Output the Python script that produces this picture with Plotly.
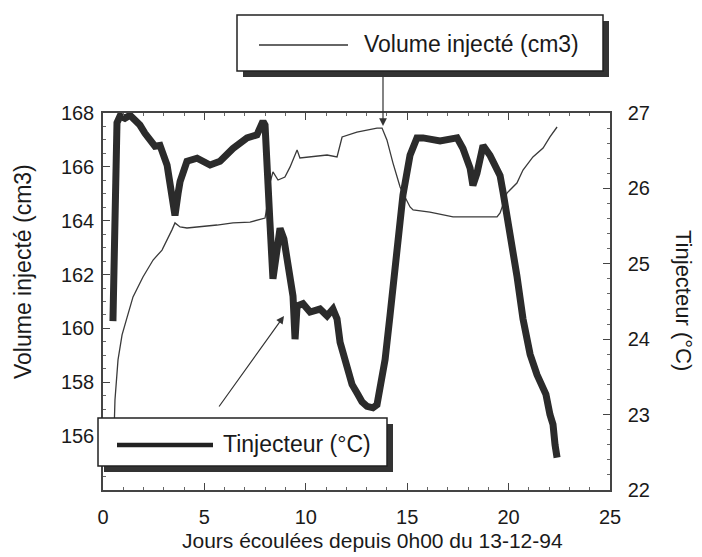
import plotly.graph_objects as go

# ---- data ----
vol_days = [0.49, 0.59, 0.74, 0.94, 1.18, 1.48, 1.97, 2.47, 2.91, 3.16, 3.40, 3.55, 3.80, 4.14,
            4.78, 5.62, 6.41, 7.25, 7.99, 8.14, 8.23, 8.38, 8.63, 8.97, 9.22, 9.57, 9.71, 10.36,
            11.05, 11.54, 11.79, 12.52, 13.51, 13.76, 14.00, 14.30, 14.65, 14.89, 15.14, 15.29,
            16.12, 17.26, 18.24, 19.43, 19.58, 19.92, 20.41, 20.71, 21.20, 21.70, 22.04, 22.39]
vol_cm3 = [154.74, 157.34, 158.83, 159.76, 160.39, 161.17, 161.91, 162.54, 162.91, 163.28, 163.66,
           163.92, 163.77, 163.73, 163.77, 163.84, 163.92, 163.95, 164.10, 164.77, 165.40, 165.81,
           165.51, 165.62, 165.99, 166.63, 166.33, 166.37, 166.44, 166.37, 167.11, 167.29, 167.44,
           167.44, 167.00, 166.14, 165.25, 164.88, 164.51, 164.40, 164.32, 164.14, 164.14, 164.14,
           164.29, 165.03, 165.40, 165.88, 166.37, 166.70, 167.11, 167.48]

temp_days = [0.49, 0.54, 0.59, 0.69, 0.84, 1.08, 1.33, 1.58, 1.82, 2.07, 2.32, 2.56, 2.81, 3.01,
             3.16, 3.30, 3.40, 3.55, 3.70, 3.80, 4.14, 4.64, 5.28, 5.77, 6.41, 7.10, 7.59, 7.89,
             7.99, 8.09, 8.23, 8.38, 8.53, 8.73, 8.92, 9.07, 9.37, 9.47, 9.57, 9.86, 10.21, 10.70,
             11.05, 11.34, 11.54, 11.69, 12.03, 12.28, 12.52, 12.77, 13.02, 13.31, 13.51, 13.66,
             13.91, 14.15, 14.50, 14.79, 15.14, 15.48, 15.78, 16.62, 17.46, 17.75, 18.10, 18.24,
             18.44, 18.59, 18.74, 19.08, 19.58, 19.72, 20.07, 20.41, 20.71, 21.06, 21.40, 21.65,
             21.84, 22.04, 22.19, 22.29, 22.39]
temp_c = [24.24, 25.20, 26.27, 26.87, 26.96, 26.93, 26.97, 26.91, 26.84, 26.73, 26.63, 26.56, 26.57,
          26.43, 26.31, 26.07, 25.87, 25.64, 25.93, 26.09, 26.36, 26.40, 26.31, 26.36, 26.53, 26.67,
          26.71, 26.89, 26.84, 26.13, 25.56, 24.80, 25.07, 25.47, 25.33, 25.11, 24.57, 24.00, 24.44,
          24.47, 24.36, 24.40, 24.31, 24.40, 24.27, 23.96, 23.64, 23.40, 23.29, 23.17, 23.11, 23.09,
          23.13, 23.33, 23.73, 24.31, 25.20, 25.91, 26.44, 26.67, 26.67, 26.63, 26.67, 26.53, 26.27,
          26.04, 26.20, 26.36, 26.57, 26.44, 26.17, 25.96, 25.43, 24.84, 24.27, 23.80, 23.53, 23.40,
          23.27, 23.00, 22.87, 22.60, 22.43]

x_ticks = [0, 5, 10, 15, 20, 25]
left_ticks = [156, 158, 160, 162, 164, 166, 168]
right_ticks = [22, 23, 24, 25, 26, 27]

FONT = "Liberation Sans, Arial, sans-serif"
INK = "#1a1a1a"

fig = go.Figure()
fig.add_trace(go.Scatter(x=vol_days, y=vol_cm3, mode="lines", yaxis="y",
                         line=dict(color="#3a3a3a", width=1.3), showlegend=False))
fig.add_trace(go.Scatter(x=temp_days, y=temp_c, mode="lines", yaxis="y2",
                         line=dict(color="#2b2b2b", width=7), showlegend=False))

axis_common = dict(showgrid=False, zeroline=False, showline=True, linecolor="#444",
                   linewidth=1.5, ticks="inside", tickcolor="#444",
                   tickfont=dict(family=FONT, size=20, color=INK))

# page body has an 8px margin: figure is shrunk so the plot area sits at
# screen x 103..610, y 113..490
fig.update_layout(
    width=694, height=549,
    margin=dict(l=95, r=92, t=105, b=67),
    paper_bgcolor="white", plot_bgcolor="white",
    xaxis=dict(range=[0, 25], tickvals=x_ticks, ticklen=7, mirror="ticks",
               minor=dict(dtick=1, ticks="inside", ticklen=3, tickcolor="#666"),
               ticklabelstandoff=8, **axis_common),
    yaxis=dict(range=[154, 168], tickvals=left_ticks, ticklen=7, mirror=True,
               minor=dict(dtick=0.5, ticks="inside", ticklen=3, tickcolor="#666"),
               ticklabelstandoff=3, **axis_common),
    yaxis2=dict(range=[22, 27], tickvals=right_ticks, overlaying="y", side="right", ticklen=7,
                minor=dict(dtick=0.2, ticks="inside", ticklen=3, tickcolor="#666"),
                ticklabelstandoff=12, **axis_common),
)

def px_x(p):
    return (p - 103) / 507.0

def px_y(p):
    return (490 - p) / 377.0

shapes = []
# legend box 1 (top) with shadow
shapes.append(dict(type="rect", xref="paper", yref="paper", layer="above",
                   x0=px_x(243), x1=px_x(609), y0=px_y(77), y1=px_y(21),
                   fillcolor="#333", line=dict(width=0)))
shapes.append(dict(type="rect", xref="paper", yref="paper", layer="above",
                   x0=px_x(237), x1=px_x(603), y0=px_y(71), y1=px_y(15),
                   fillcolor="white", line=dict(color="#222", width=1.5)))
shapes.append(dict(type="line", xref="paper", yref="paper", layer="above",
                   x0=px_x(259), x1=px_x(348), y0=px_y(45), y1=px_y(45),
                   line=dict(color="#333", width=1.5)))
# legend box 2 (bottom) with shadow
shapes.append(dict(type="rect", xref="paper", yref="paper", layer="above",
                   x0=px_x(104), x1=px_x(393), y0=px_y(472), y1=px_y(424),
                   fillcolor="#333", line=dict(width=0)))
shapes.append(dict(type="rect", xref="paper", yref="paper", layer="above",
                   x0=px_x(98), x1=px_x(387), y0=px_y(466), y1=px_y(418),
                   fillcolor="white", line=dict(color="#222", width=1.5)))
shapes.append(dict(type="line", xref="paper", yref="paper", layer="above",
                   x0=px_x(117), x1=px_x(213), y0=px_y(445), y1=px_y(445),
                   line=dict(color="#222", width=4.5)))
fig.update_layout(shapes=shapes)

ann = []
ann.append(dict(xref="paper", yref="paper", x=px_x(362), y=px_y(44), xanchor="left",
                yanchor="middle", text="Volume injecté (cm3)", showarrow=False,
                font=dict(family=FONT, size=23, color=INK)))
ann.append(dict(xref="paper", yref="paper", x=px_x(221), y=px_y(444), xanchor="left",
                yanchor="middle", text="Tinjecteur (°C)", showarrow=False,
                font=dict(family=FONT, size=23, color=INK)))
# arrows
ann.append(dict(xref="paper", yref="paper", x=px_x(383), y=px_y(126), ax=0, ay=-52,
                text="", showarrow=True, arrowhead=2, arrowsize=1.3, arrowwidth=1.2,
                arrowcolor="#333"))
ann.append(dict(xref="paper", yref="paper", x=px_x(284), y=px_y(316), ax=-66, ay=92,
                text="", showarrow=True, arrowhead=2, arrowsize=1.3, arrowwidth=1.2,
                arrowcolor="#333"))
# axis titles
ann.append(dict(xref="paper", yref="paper", x=px_x(372), y=px_y(540), xanchor="center",
                yanchor="middle", text="Jours écoulées depuis 0h00 du 13-12-94", showarrow=False,
                font=dict(family=FONT, size=21, color=INK)))
ann.append(dict(xref="paper", yref="paper", x=px_x(23), y=px_y(272), xanchor="center",
                yanchor="middle", text="Volume injecté (cm3)", showarrow=False, textangle=-90,
                font=dict(family=FONT, size=23, color=INK)))
ann.append(dict(xref="paper", yref="paper", x=px_x(684), y=px_y(300), xanchor="center",
                yanchor="middle", text="Tinjecteur (°C)", showarrow=False, textangle=90,
                font=dict(family=FONT, size=22, color=INK)))
fig.update_layout(annotations=ann)

fig.write_html("out.html")
